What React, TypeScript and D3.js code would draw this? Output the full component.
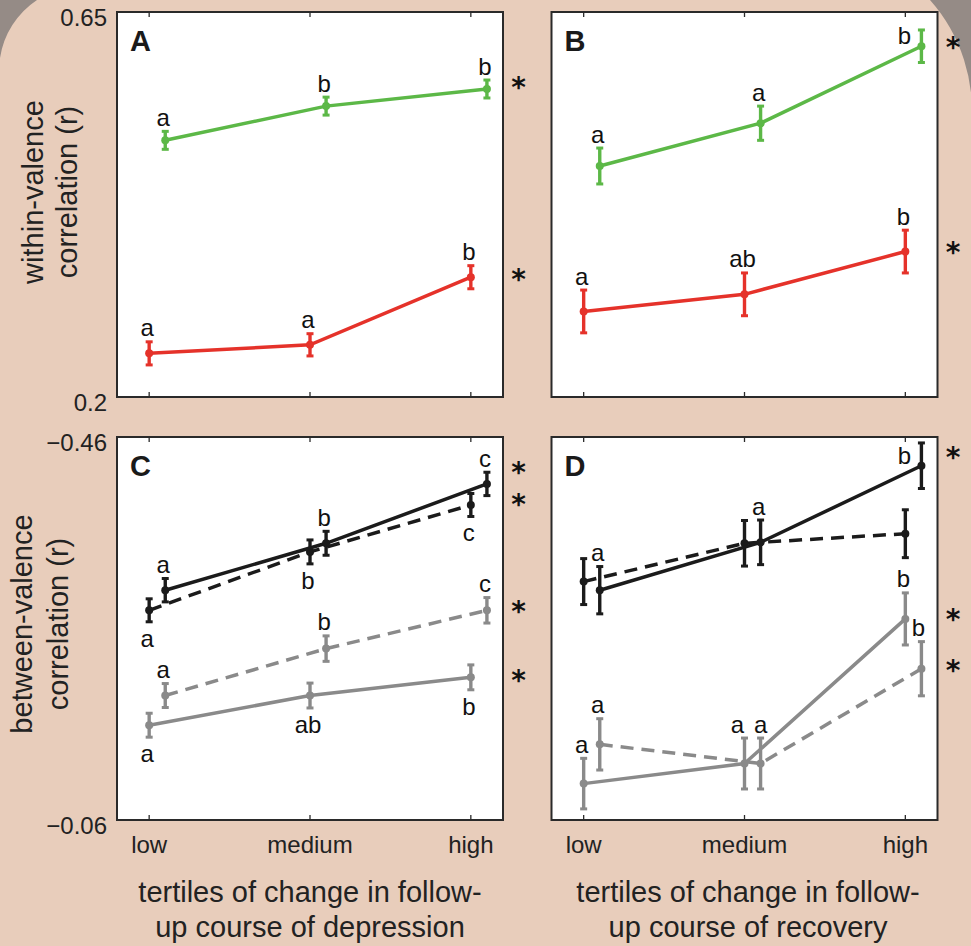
import React from "react";
import * as d3 from "d3";

// Tertile categories along the x axis
const categories = ["low", "medium", "high"];

// Panel A: within-valence correlation by tertile of change in depression course
const aPositive = [0.5, 0.54, 0.56];
const aPositiveErr = [0.0105, 0.0105, 0.0105];
const aPositiveLetters = ["a", "b", "b"];
const aNegative = [0.251, 0.261, 0.34];
const aNegativeErr = [0.0135, 0.013, 0.0135];
const aNegativeLetters = ["a", "a", "b"];

// Panel B: within-valence correlation by tertile of change in recovery course
const bPositive = [0.47, 0.52, 0.61];
const bPositiveErr = [0.021, 0.02, 0.019];
const bPositiveLetters = ["a", "a", "b"];
const bNegative = [0.3, 0.32, 0.37];
const bNegativeErr = [0.025, 0.025, 0.025];
const bNegativeLetters = ["a", "ab", "b"];

// Panel C: between-valence correlation by tertile of change in depression course
const cBlackSolid = [-0.3, -0.349, -0.411];
const cBlackSolidErr = [0.0122, 0.0125, 0.0122];
const cBlackSolidLetters = ["a", "b", "c"];
const cBlackDashed = [-0.279, -0.34, -0.389];
const cBlackDashedErr = [0.012, 0.0125, 0.012];
const cBlackDashedLetters = ["a", "b", "c"];
const cGreyDashed = [-0.19, -0.239, -0.279];
const cGreyDashedErr = [0.0125, 0.0133, 0.0133];
const cGreyDashedLetters = ["a", "b", "c"];
const cGreySolid = [-0.159, -0.19, -0.209];
const cGreySolidErr = [0.0125, 0.013, 0.013];
const cGreySolidLetters = ["a", "ab", "b"];

// Panel D: between-valence correlation by tertile of change in recovery course
const dBlackSolid = [-0.3, -0.35, -0.43];
const dBlackSolidErr = [0.0247, 0.0233, 0.0238];
const dBlackSolidLetters = ["a", "a", "b"];
const dBlackDashed = [-0.309, -0.349, -0.359];
const dBlackDashedErr = [0.024, 0.0238, 0.025];
const dBlackDashedLetters = ["", "", ""];
const dGreySolid = [-0.098, -0.119, -0.27];
const dGreySolidErr = [0.0264, 0.0266, 0.0272];
const dGreySolidLetters = ["a", "a", "b"];
const dGreyDashed = [-0.139, -0.119, -0.218];
const dGreyDashedErr = [0.0268, 0.0266, 0.0283];
const dGreyDashedLetters = ["a", "a", "b"];

// Axis tick labels
const topRowTicks = [0.2, 0.65];
const bottomRowTicks = [-0.46, -0.06];

const GREEN = "#5cb847";
const RED = "#e5322a";
const BLACK = "#1b1b1b";
const GREY = "#8a8a8a";
const BEIGE = "#e8cdbb";
const SHADE = "#958b86";
const FONT = "'Liberation Sans', Arial, Helvetica, sans-serif";

type Place = "above" | "below" | "left";

interface Series {
  values: number[];
  errors: number[];
  letters: string[];
  place: Place[];
  labelDx: number[];
  color: string;
  dashed: boolean;
  shift: number;
  star: boolean;
  starDy: number;
}

const mk = (
  values: number[],
  errors: number[],
  letters: string[],
  color: string,
  dashed: boolean,
  shift: number,
  place: Place[],
  star: boolean,
  starDy = -3,
  labelDx: number[] = [0, 0, 0]
): Series => ({ values, errors, letters, color, dashed, shift, place, star, starDy, labelDx });

const PW = 386;
const colX = [117, 551.5];
const rows = [
  { y0: 12, h: 385, domain: [0.2, 0.65], ticks: topRowTicks },
  { y0: 437, h: 383, domain: [-0.06, -0.46], ticks: bottomRowTicks },
];

const panels = [
  {
    tag: "A", col: 0, row: 0, showY: true,
    series: [
      mk(aPositive, aPositiveErr, aPositiveLetters, GREEN, false, 0.1, ["above", "above", "above"], true, -5),
      mk(aNegative, aNegativeErr, aNegativeLetters, RED, false, 0, ["above", "above", "above"], true, -1.5),
    ],
  },
  {
    tag: "B", col: 1, row: 0, showY: false,
    series: [
      mk(bPositive, bPositiveErr, bPositiveLetters, GREEN, false, 0.1, ["above", "above", "left"], true),
      mk(bNegative, bNegativeErr, bNegativeLetters, RED, false, 0, ["above", "above", "above"], true),
    ],
  },
  {
    tag: "C", col: 0, row: 1, showY: true,
    series: [
      mk(cGreySolid, cGreySolidErr, cGreySolidLetters, GREY, false, 0, ["below", "below", "below"], true, -1),
      mk(cGreyDashed, cGreyDashedErr, cGreyDashedLetters, GREY, true, 0.1, ["above", "above", "above"], true),
      mk(cBlackDashed, cBlackDashedErr, cBlackDashedLetters, BLACK, true, 0, ["below", "below", "below"], true, -4),
      mk(cBlackSolid, cBlackSolidErr, cBlackSolidLetters, BLACK, false, 0.1, ["above", "above", "above"], true, -15),
    ],
  },
  {
    tag: "D", col: 1, row: 1, showY: false,
    series: [
      mk(dGreyDashed, dGreyDashedErr, dGreyDashedLetters, GREY, true, 0.1, ["above", "above", "above"], true, -2.5, [0, 2, -1]),
      mk(dGreySolid, dGreySolidErr, dGreySolidLetters, GREY, false, 0, ["above", "above", "above"], true, -3, [0, -5, 0]),
      mk(dBlackDashed, dBlackDashedErr, dBlackDashedLetters, BLACK, true, 0, ["above", "above", "above"], false),
      mk(dBlackSolid, dBlackSolidErr, dBlackSolidLetters, BLACK, false, 0.1, ["above", "above", "left"], true, -12.5),
    ],
  },
];

const STAR_SIZE = 28;

function Panel({ p }: { p: (typeof panels)[number] }) {
  const x0 = colX[p.col];
  const row = rows[p.row];
  const y0 = row.y0;
  const x = d3.scaleLinear().domain([-0.2, 2.2]).range([x0, x0 + PW]);
  const y = d3.scaleLinear().domain(row.domain).range([y0 + row.h, y0]);
  const tickXs = categories.map((_, i) => x(i));

  return (
    <g>
      <rect x={x0} y={y0} width={PW} height={row.h} fill="#ffffff" stroke="#2a2a2a" strokeWidth={2} />
      {tickXs.map((tx, i) => (
        <g key={"t" + i} stroke="#2a2a2a" strokeWidth={1.3}>
          <line x1={tx} x2={tx} y1={y0} y2={y0 + 5} />
          <line x1={tx} x2={tx} y1={y0 + row.h} y2={y0 + row.h - 5} />
        </g>
      ))}
      {p.showY &&
        row.ticks.map((t) => (
          <text key={"y" + t} x={107} y={y(t) + 13.5} textAnchor="end" fontSize={24} fill="#222" fontFamily={FONT}>
            {d3.format(".2~f")(t).replace("-", "\u2212")}
          </text>
        ))}
      {p.row === 1 &&
        categories.map((c, i) => (
          <text key={"c" + i} x={tickXs[i]} y={853} textAnchor="middle" fontSize={24} fill="#222" fontFamily={FONT}>
            {c}
          </text>
        ))}
      <text x={x0 + 13} y={y0 + 39} fontSize={29} fontWeight="bold" fill="#1a1a1a" fontFamily={FONT}>
        {p.tag}
      </text>
      {p.series.map((s, si) => {
        const pts = s.values.map((v, i) => [x(i + s.shift), y(v)] as [number, number]);
        const line = d3.line()(pts) || "";
        return (
          <g key={"s" + si}>
            <path
              d={line}
              fill="none"
              stroke={s.color}
              strokeWidth={3.5}
              strokeDasharray={s.dashed ? "13,8" : undefined}
            />
            {s.values.map((v, i) => {
              const px = x(i + s.shift);
              const ya = y(v - s.errors[i]);
              const yb = y(v + s.errors[i]);
              return (
                <g key={"e" + i} stroke={s.color}>
                  <line x1={px} x2={px} y1={ya} y2={yb} strokeWidth={3.4} />
                  <line x1={px - 3.5} x2={px + 3.5} y1={ya} y2={ya} strokeWidth={3} />
                  <line x1={px - 3.5} x2={px + 3.5} y1={yb} y2={yb} strokeWidth={3} />
                  <circle cx={px} cy={y(v)} r={4} fill={s.color} stroke="none" />
                </g>
              );
            })}
            {s.values.map((v, i) => {
              if (!s.letters[i]) return null;
              const px = x(i + s.shift);
              const top = Math.min(y(v - s.errors[i]), y(v + s.errors[i]));
              const bot = Math.max(y(v - s.errors[i]), y(v + s.errors[i]));
              let lx = px - 2 + s.labelDx[i];
              let ly = top - 5.5;
              if (s.place[i] === "below") ly = bot + 25;
              if (s.place[i] === "left") {
                lx = px - 17 + s.labelDx[i];
                ly = y(v) - 2;
              }
              return (
                <text key={"l" + i} x={lx} y={ly} textAnchor="middle" fontSize={24} fill="#111" fontFamily={FONT}>
                  {s.letters[i]}
                </text>
              );
            })}
            {s.star && (
              <text
                x={x0 + PW + 15.5}
                y={y(s.values[2]) + s.starDy + STAR_SIZE * 0.48}
                textAnchor="middle"
                fontSize={STAR_SIZE}
                fontWeight="bold"
                fill="#111"
                fontFamily="'DejaVu Sans', sans-serif"
              >
                *
              </text>
            )}
          </g>
        );
      })}
    </g>
  );
}

export default function App() {
  const W = 971;
  const H = 946;
  return (
    <svg
      width={W}
      height={H}
      viewBox={`0 0 ${W} ${H}`}
      style={{ position: "absolute", left: 0, top: 0, display: "block" }}
    >
      <rect x={0} y={0} width={W} height={H} fill={BEIGE} />
      <path d="M0,0 L37,0 A85,85 0 0 0 0,58 Z" fill={SHADE} />
      <path d="M971,0 L930,0 A166.5,166.5 0 0 1 971,128 Z" fill={SHADE} />

      <g fontFamily={FONT} fontSize={29} fill="#222" textAnchor="middle">
        <text transform="translate(43,192) rotate(-90)">within-valence</text>
        <text transform="translate(77,192) rotate(-90)">correlation (r)</text>
        <text transform="translate(32,624) rotate(-90)">between-valence</text>
        <text transform="translate(68,624) rotate(-90)">correlation (r)</text>
        <text x={310} y={902}>tertiles of change in follow-</text>
        <text x={310} y={937}>up course of depression</text>
        <text x={748} y={902}>tertiles of change in follow-</text>
        <text x={748} y={937}>up course of recovery</text>
      </g>

      {panels.map((p) => (
        <Panel key={p.tag} p={p} />
      ))}
    </svg>
  );
}
